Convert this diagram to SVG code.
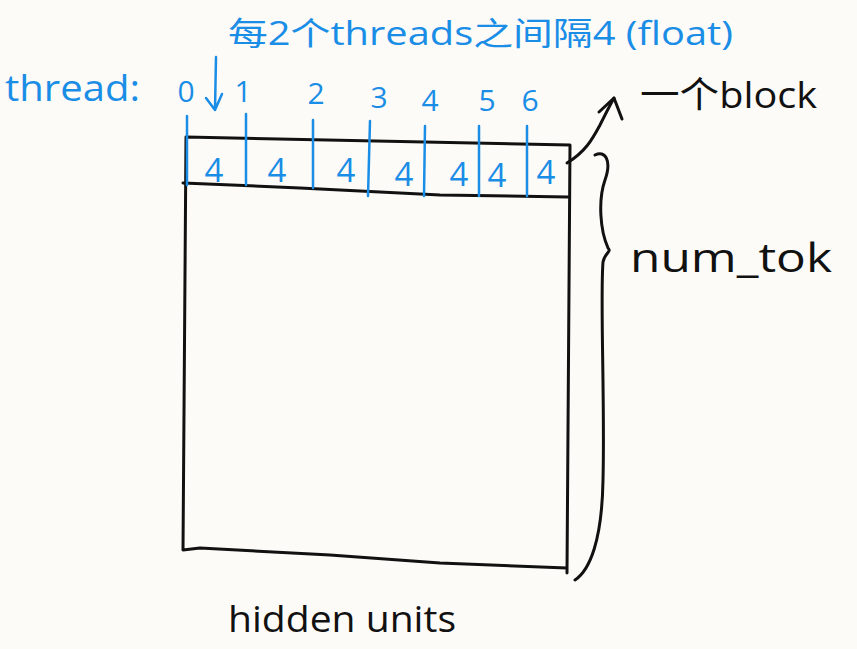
<svg xmlns="http://www.w3.org/2000/svg" width="857" height="649" viewBox="0 0 857 649">
<style>
.bg{fill:#fdfbf7}
.blk{fill:none;stroke:#111;stroke-width:3;stroke-linecap:round;stroke-linejoin:round}
.blu{fill:none;stroke:#1a8de6;stroke-width:2.5;stroke-linecap:round;stroke-linejoin:round}
.tb{font-family:"Open Sans","Noto Sans","Noto Sans CJK SC",sans-serif;fill:#1a8de6}
.tk{font-family:"Open Sans","Noto Sans","Noto Sans CJK SC",sans-serif;fill:#111}
</style>
<rect class="bg" x="0" y="0" width="857" height="649"/>

<g id="title">
<text class="tb" x="228" y="45" font-size="32" textLength="505" lengthAdjust="spacingAndGlyphs">每2个threads之间隔4 (float)</text>
</g>

<g id="thread-labels">
<text class="tb" x="5" y="101" font-size="36" textLength="135" lengthAdjust="spacingAndGlyphs">thread:</text>
<text class="tb" x="186" y="102" font-size="30" text-anchor="middle">0</text>
<text class="tb" x="243" y="102" font-size="30" text-anchor="middle">1</text>
<text class="tb" x="316" y="104" font-size="30" text-anchor="middle">2</text>
<text class="tb" x="379" y="108" font-size="30" text-anchor="middle">3</text>
<text class="tb" x="430" y="111" font-size="30" text-anchor="middle">4</text>
<text class="tb" x="487" y="111" font-size="30" text-anchor="middle">5</text>
<text class="tb" x="530" y="111" font-size="30" text-anchor="middle">6</text>
</g>

<g id="block-matrix">
<path class="blk" d="M186,137 L570,145 L567,573 M186,137 L183,550 L200,548 L330,555 L440,563 L567,568"/>
<path class="blk" d="M183,183 L300,188 L440,195 L568,197"/>
<g id="dividers">
<path class="blu" d="M187,116 L187,185 M246,114 L246,185 M313,120 L313,188 M370,121 L368,196 M425,126 L424,196 M479,126 L479,196 M527,126 L527,196"/>
</g>
<g id="cells">
<text class="tb" x="214" y="182" font-size="33" text-anchor="middle">4</text>
<text class="tb" x="277" y="182" font-size="33" text-anchor="middle">4</text>
<text class="tb" x="346" y="182" font-size="33" text-anchor="middle">4</text>
<text class="tb" x="404" y="186" font-size="33" text-anchor="middle">4</text>
<text class="tb" x="459" y="186" font-size="33" text-anchor="middle">4</text>
<text class="tb" x="497" y="187" font-size="33" text-anchor="middle">4</text>
<text class="tb" x="546" y="184" font-size="33" text-anchor="middle">4</text>
</g>
</g>

<g id="block-label">
<text class="tk" x="640" y="108" font-size="36" textLength="177" lengthAdjust="spacingAndGlyphs">一个block</text>
</g>

<g id="numtok-label">
<text class="tk" x="630" y="272" font-size="40" textLength="202" lengthAdjust="spacingAndGlyphs">num_tok</text>
</g>

<g id="hidden-label">
<text class="tk" x="228" y="632" font-size="36" textLength="228" lengthAdjust="spacingAndGlyphs">hidden units</text>
</g>

<g id="connectors">
<path class="blu" d="M216,57 L215,110 M206,98 L215,110 L222,94"/>
<path class="blk" d="M567,163 C585,152 592,140 600,125 C605,115 610,105 614,98"/>
<path class="blk" d="M599,112 L614,98 L622,119"/>
<path class="blk" d="M595,155 C605,150 612,160 605,180 C598,200 600,230 608,248 C612,252 605,252 603,262 C600,300 605,400 603,480 C602,540 590,570 575,580"/>
</g>
</svg>
